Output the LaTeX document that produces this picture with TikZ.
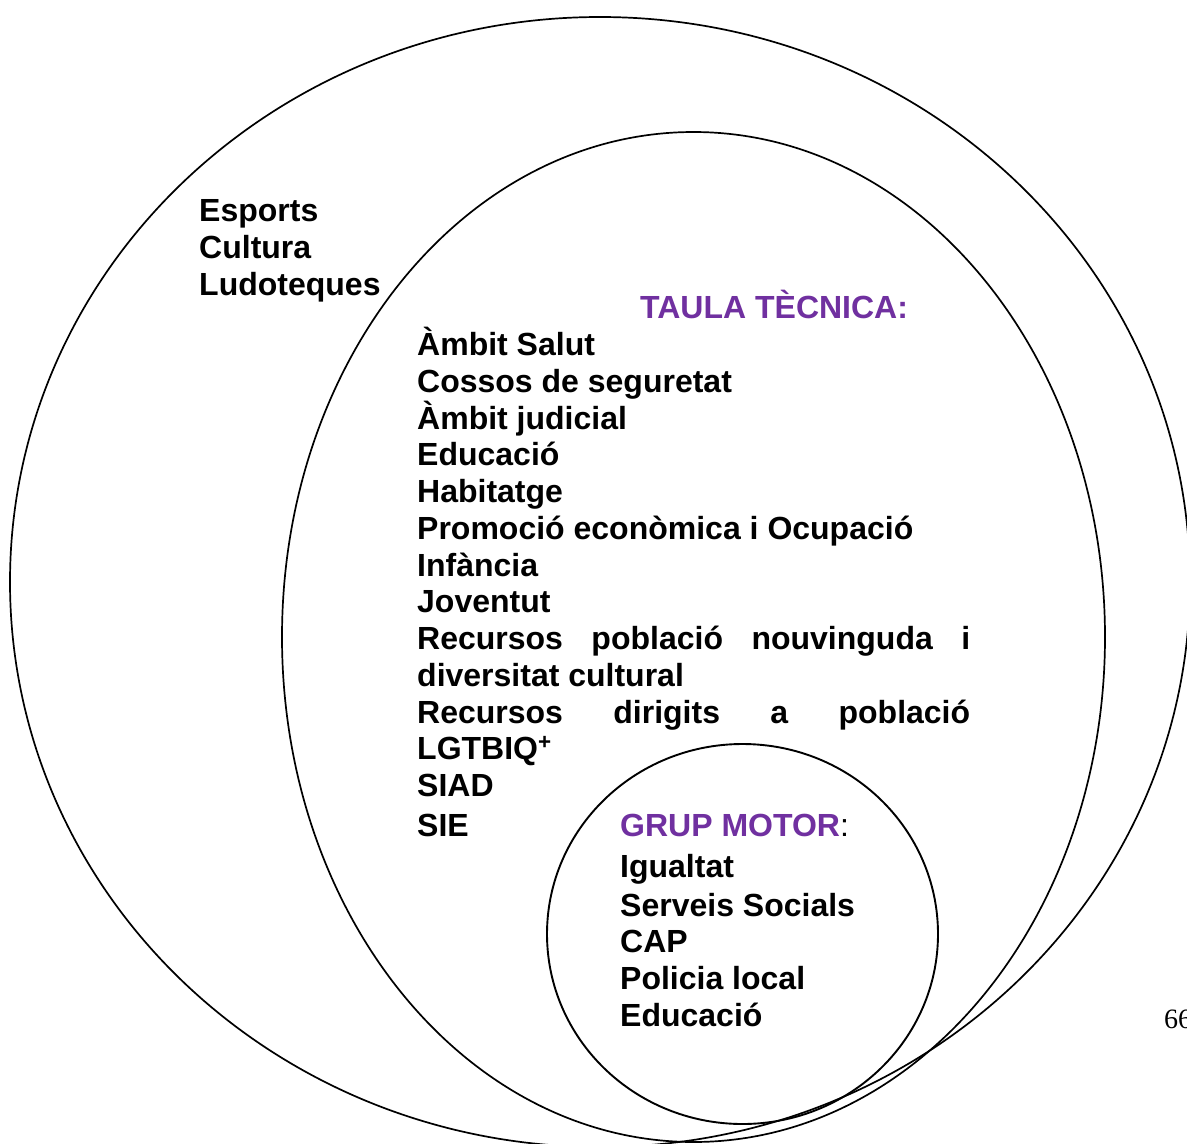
\documentclass[tikz,border=0pt]{standalone}
\usepackage{fontspec}
\setmainfont{Liberation Sans}
\newfontfamily\pagefont{Liberation Serif}
\definecolor{purp}{HTML}{7030A0}
\begin{document}
\begin{tikzpicture}[x=1pt,y=-1pt,
  lbl/.style={anchor=base west, inner sep=0pt, font=\bfseries\fontsize{32}{37}\selectfont},
  ring/.style={draw=black, line width=1.7pt},
  head/.style={lbl, text=purp}]
\useasboundingbox (0,0) rectangle (1187,1144);
\fill[white] (0,0) rectangle (1187,1144);
% circles
\draw[ring] (600,582) ellipse [x radius=590pt, y radius=565pt];
\draw[ring] (693.5,637) ellipse [x radius=411.5pt, y radius=505pt];
\draw[ring, line width=1.9pt] (742.5,934) ellipse [x radius=195.5pt, y radius=190pt];
% outer ring labels
\node[lbl] (esp) at (199,221) {Esports};
\node[lbl] (cul) at (199,258) {Cultura};
\node[lbl] (lud) at (199,295) {Ludoteques};
% taula tecnica
\node[head] (tt) at (640,318) {TAULA TÈCNICA:};
\node[lbl] (t1) at (417,355) {Àmbit Salut};
\node[lbl] (t2) at (417,392) {Cossos de seguretat};
\node[lbl] (t3) at (417,429) {Àmbit judicial};
\node[lbl] (t4) at (417,465) {Educació};
\node[lbl] (t5) at (417,502) {Habitatge};
\node[lbl] (t6) at (417,539) {Promoció econòmica i Ocupació};
\node[lbl] (t7) at (417,576) {Infància};
\node[lbl] (t8) at (417,612) {Joventut};
\node[lbl] (t9) at (417,649) {\hbox to 553pt{Recursos\hfill població\hfill nouvinguda\hfill i}};
\node[lbl] (t10) at (417,686) {diversitat cultural};
\node[lbl] (t11) at (417,723) {\hbox to 553pt{Recursos\hfill dirigits\hfill a\hfill població}};
\node[lbl] (t12) at (417,759) {LGTBIQ\textsuperscript{+}};
\node[lbl] (t13) at (417,796) {SIAD};
\node[lbl] (t14) at (417,836) {SIE};
% grup motor
\node[lbl] (gm) at (620,836) {\textcolor{purp}{GRUP MOTOR}\textmd{:}};
\node[lbl] (g1) at (620,877) {Igualtat};
\node[lbl] (g2) at (620,916) {Serveis Socials};
\node[lbl] (g3) at (620,952) {CAP};
\node[lbl] (g4) at (620,989) {Policia local};
\node[lbl] (g5) at (620,1026) {Educació};
% page number (cut by the page edge, as in the reference)
\node[anchor=base west, inner sep=0pt, font=\pagefont\fontsize{28}{30}\selectfont] (pg) at (1164,1028) {66};
\end{tikzpicture}
\end{document}
